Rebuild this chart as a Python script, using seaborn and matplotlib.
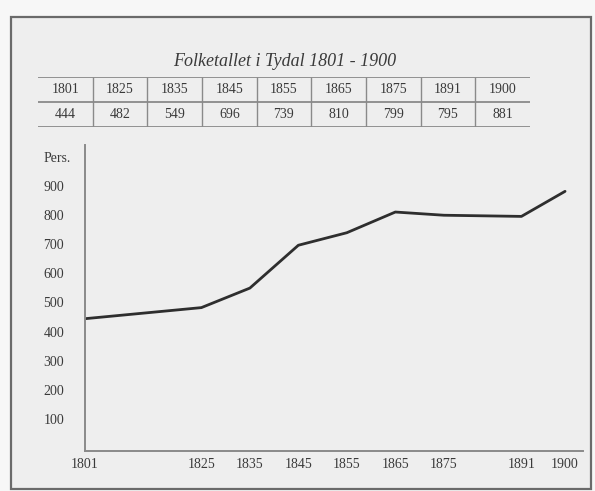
import matplotlib
matplotlib.use("Agg")
import matplotlib.pyplot as plt
import seaborn as sns
import pandas as pd
from matplotlib.patches import Rectangle

years = [1801, 1825, 1835, 1845, 1855, 1865, 1875, 1891, 1900]
population = [444, 482, 549, 696, 739, 810, 799, 795, 881]
title = "Folketallet i Tydal 1801 - 1900"
y_ticks = [100, 200, 300, 400, 500, 600, 700, 800, 900, 1000]
y_labels = ["100", "200", "300", "400", "500", "600", "700", "800", "900", "Pers."]

sns.set_theme(style="white")
plt.rcParams["font.family"] = ["Liberation Serif", "DejaVu Serif"]

W, H = 595, 491
fig = plt.figure(figsize=(W / 100, H / 100), dpi=100)
fig.patch.set_facecolor("#f7f7f7")

def fx(px):
    return px / W

def fy(py):
    return (H - py) / H

# background axes with the outer frame
bg = fig.add_axes([0, 0, 1, 1], zorder=-5)
bg.set_xlim(0, 1)
bg.set_ylim(0, 1)
bg.axis("off")
bg.add_patch(Rectangle((fx(11), fy(489)), fx(591) - fx(11), fy(17) - fy(489),
                       facecolor="#eeeeee", edgecolor="#6a6a6a", lw=1.6))

txt_color = "#3a3a3a"
line_gray = "#8a8a8a"

# title
bg.text(fx(285), fy(62), title, ha="center", va="center", fontsize=13,
        style="italic", color=txt_color)

# table
tax = fig.add_axes([fx(38), fy(127), fx(530) - fx(38), fy(77) - fy(127)])
tax.set_xlim(0, len(years))
tax.set_ylim(0, 2)
tax.axis("off")
tax.hlines([0, 1, 2], 0, len(years), color=line_gray, lw=1.3)
tax.vlines(range(1, len(years)), 0, 2, color=line_gray, lw=1.0)
for i, (yr, p) in enumerate(zip(years, population)):
    tax.text(i + 0.5, 1.5, str(yr), ha="center", va="center", fontsize=10, color=txt_color)
    tax.text(i + 0.5, 0.5, str(p), ha="center", va="center", fontsize=10, color=txt_color)

# main chart
ax = fig.add_axes([fx(85), fy(451), fx(583) - fx(85), fy(145) - fy(451)])
ax.set_facecolor("none")
df = pd.DataFrame({"year": years, "pop": population})
sns.lineplot(data=df, x="year", y="pop", ax=ax, color="#2e2e2e", lw=2.0)
ax.set_xlim(1801, 1903.7)
ax.set_ylim(-10, 1040)
ax.set_xticks(years)
ax.set_xticklabels([str(y) for y in years])
ax.set_yticks(y_ticks)
ax.set_yticklabels(y_labels)
ax.set_xlabel("")
ax.set_ylabel("")
for s in ["top", "right"]:
    ax.spines[s].set_visible(False)
for s in ["left", "bottom"]:
    ax.spines[s].set_color(line_gray)
    ax.spines[s].set_linewidth(1.4)
ax.tick_params(axis="both", length=0, labelsize=10, labelcolor=txt_color)
ax.tick_params(axis="x", pad=5)
ax.tick_params(axis="y", pad=30)
for lab in ax.get_yticklabels():
    lab.set_horizontalalignment("left")
ax.grid(False)

fig.savefig("out.png", dpi=100, facecolor=fig.get_facecolor())
